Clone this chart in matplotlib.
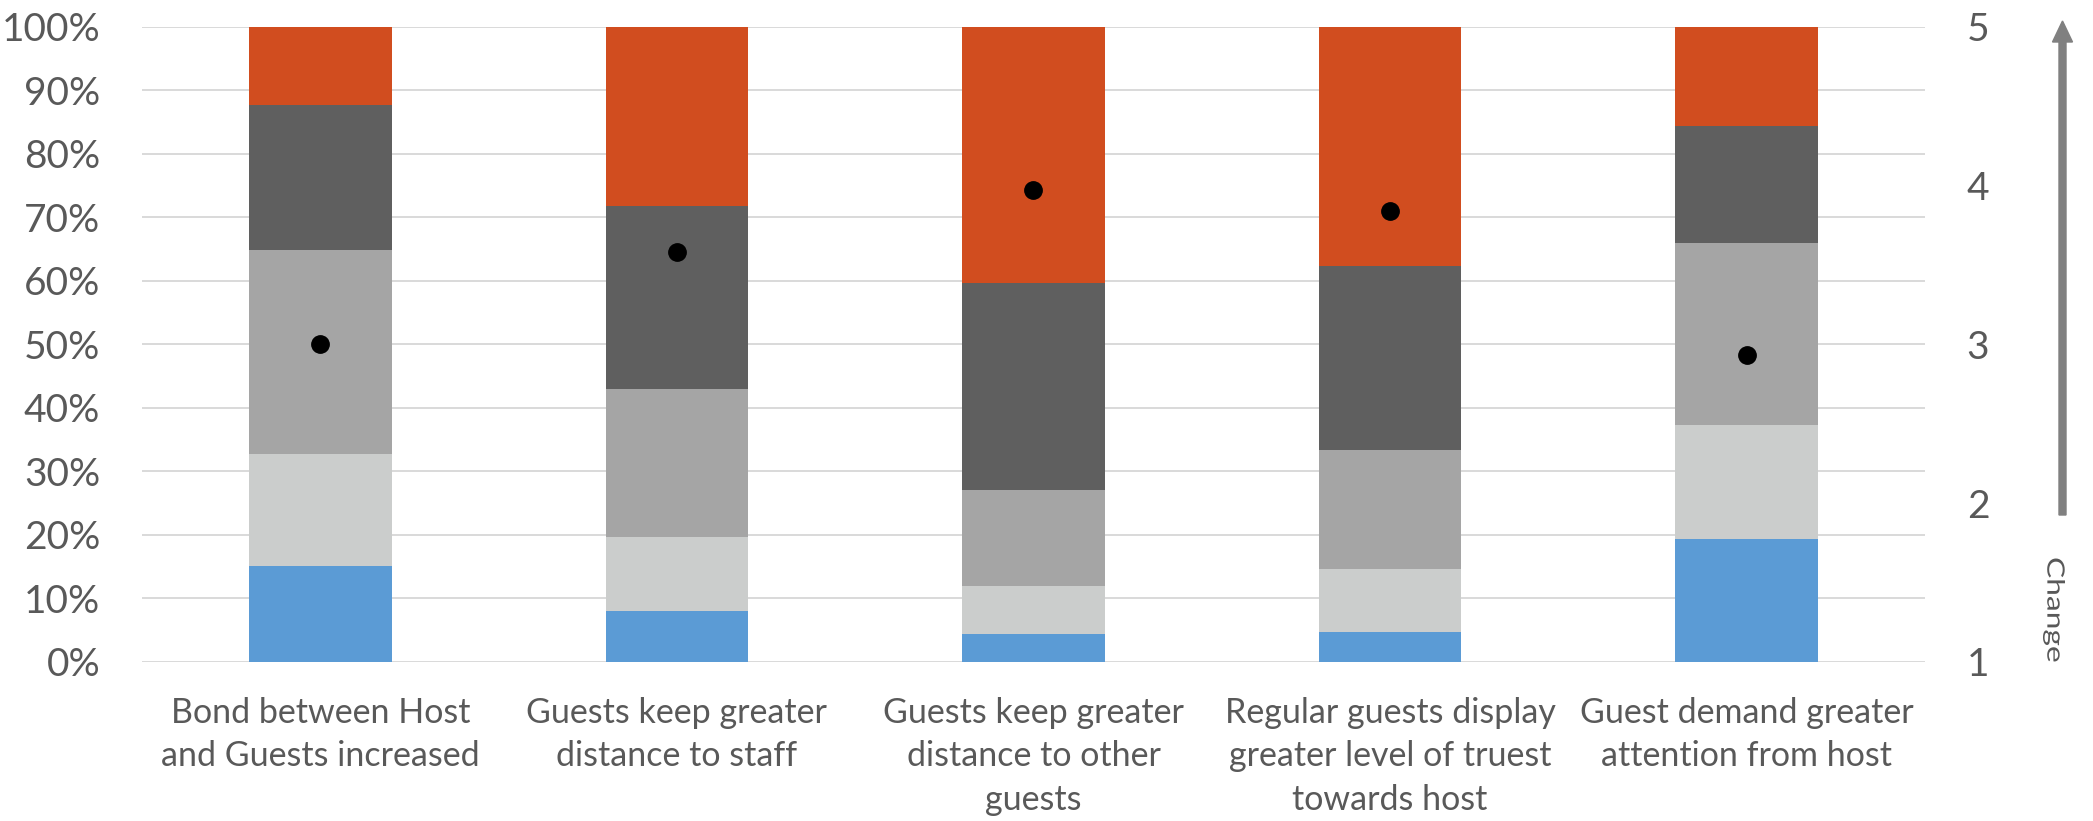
import matplotlib
matplotlib.use("Agg")
import matplotlib.pyplot as plt
from matplotlib.textpath import TextPath
from matplotlib.patches import PathPatch, FancyArrow
from matplotlib.font_manager import FontProperties
from matplotlib.transforms import Affine2D, IdentityTransform
import numpy as np

# ---- data -------------------------------------------------------------
categories = [
    "Bond between Host\nand Guests increased",
    "Guests keep greater\ndistance to staff",
    "Guests keep greater\ndistance to other\nguests",
    "Regular guests display\ngreater level of truest\ntowards host",
    "Guest demand greater\nattention from host",
]
# share of answers per rating (percent), rating 1 (bottom) .. 5 (top)
rating_1 = [15.1, 8.0, 4.4, 4.7, 19.4]
rating_2 = [17.7, 11.6, 7.5, 10.0, 17.9]
rating_3 = [32.0, 23.3, 15.2, 18.6, 28.7]
rating_4 = [22.8, 28.8, 32.5, 29.1, 18.4]
rating_5 = [12.4, 28.3, 40.4, 37.6, 15.6]
mean_change = [3.00, 3.58, 3.97, 3.84, 2.93]

pct_ticks = list(range(0, 101, 10))
scale_ticks = [1, 2, 3, 4, 5]

# ---- style ------------------------------------------------------------
W, H, DPI = 2093, 821, 100
FONT = "Lato"
TXT = "#595959"
GRID = "#D9D9D9"
seg_colors = ["#5B9BD5", "#CBCDCC", "#A5A5A5", "#5F5F5F", "#D14D1F"]

plt.rcParams["font.family"] = [FONT, "DejaVu Sans"]

fig = plt.figure(figsize=(W / DPI, H / DPI), dpi=DPI)
ax = fig.add_axes([142 / W, 1 - 662 / H, (1925 - 142) / W, (662 - 26.7) / H])

x = np.arange(len(categories))
bottom = np.zeros(len(categories))
for vals, col in zip([rating_1, rating_2, rating_3, rating_4, rating_5], seg_colors):
    ax.bar(x, vals, width=0.40, bottom=bottom, color=col, linewidth=0, zorder=3)
    bottom += np.array(vals)

ax.set_xlim(-0.5, len(categories) - 0.5)
ax.set_ylim(0, 100)
ax.set_yticks(pct_ticks)
ax.set_yticklabels([f"{t}%" for t in pct_ticks])
ax.yaxis.grid(True, color=GRID, linewidth=1.4, zorder=0)
ax.set_axisbelow(True)
ax.set_xticks(x)
ax.set_xticklabels(categories, fontsize=24.5, color=TXT, linespacing=1.45)
ax.tick_params(axis="x", length=0, pad=25)
ax.tick_params(axis="y", length=0, pad=30, labelsize=28, labelcolor=TXT)
for s in ax.spines.values():
    s.set_visible(False)

# secondary scale for the mean rating
ax2 = ax.twinx()
ax2.set_ylim(1, 5)
ax2.set_yticks(scale_ticks)
ax2.set_yticklabels([str(t) for t in scale_ticks])
ax2.tick_params(axis="y", length=0, pad=30, labelsize=28, labelcolor=TXT)
for s in ax2.spines.values():
    s.set_visible(False)
ax2.plot(x, mean_change, linestyle="none", marker="o", markersize=12.5,
         color="black", zorder=5)

# upward arrow labelled "Change"
fig.patches.append(FancyArrow(
    2062.5, H - 515, 0, 515 - 21, width=7, head_width=20, head_length=21,
    length_includes_head=True, color="#808080", transform=IdentityTransform(),
    figure=fig))

tp = TextPath((0, 0), "Change", size=40, prop=FontProperties(family=FONT))
ext = tp.get_extents()
length, thick = 103.0, 22.0
tr = (Affine2D()
      .translate(-(ext.x0 + ext.x1) / 2, -(ext.y0 + ext.y1) / 2)
      .scale(length / ext.width, thick / ext.height)
      .rotate_deg(-90)
      .translate(2054, H - 610))
fig.patches.append(PathPatch(tr.transform_path(tp), facecolor=TXT, edgecolor="none",
                             transform=IdentityTransform(), figure=fig))

fig.savefig("out.png", dpi=DPI)
